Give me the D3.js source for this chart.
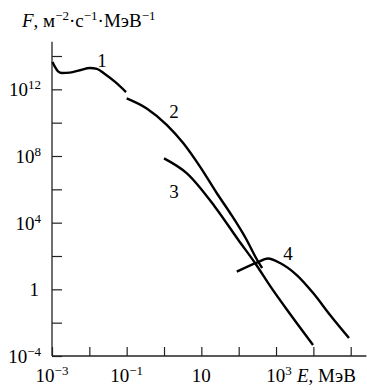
<!DOCTYPE html>
<html><head><meta charset="utf-8">
<script src="https://cdn.jsdelivr.net/npm/d3@7"></script>
<style>body{margin:0;background:#fff}svg{display:block}text{font-family:"Liberation Serif","Times New Roman",serif;fill:#000}</style>
</head><body>
<script>
// Energy E (MeV) and flux F (m^-2 s^-1 MeV^-1)
const curve1 = [[1.03e-3,4.4e13],[1.2e-3,2.2e13],[1.45e-3,1.2e13],[1.85e-3,9.6e12],[3.0e-3,1.0e13],[5.6e-3,1.4e13],[0.0104,1.9e13],[0.016,1.7e13],[0.026,8.3e12],[0.049,2.8e12],[0.096,6.9e11]];
const curve2 = [[0.1,2.9e11],[0.344,7.2e10],[1.2,7.2e9],[3.3,5.8e8],[9.2,2.3e7],[26,5.8e5],[59,3.8e4],[164,912],[292,76],[423,19]];
const curve3 = [[1,7.2e7],[4.1,9.1e6],[23,9.1e4],[98,912],[274,38],[692,1.6],[2380,0.033],[9800,4.6e-4]];
const curve4 = [[89,11.5],[305,40],[611,71],[1280,38],[3590,7.2],[10000,0.58],[28000,0.029],[90000,1.2e-3]];
const curveLabels = ["1","2","3","4"];
const labelAt = [[0.022,2.2e13],[1.85,1.9e10],[1.85,3.2e5],[2100,55]];
const xTicks = [1e-3,1e-2,1e-1,1,10,1e2,1e3,1e4,1e5];
const xLabels = [[1e-3,"10","−3"],[1e-1,"10","−1"],[10,"10",""],[1e3,"10","3"]];
const yTicks = [1e-4,1e-2,1,1e2,1e4,1e6,1e8,1e10,1e12,1e14];
const yLabels = [[1e-4,"10","−4"],[1,"1",""],[1e4,"10","4"],[1e8,"10","8"],[1e12,"10","12"]];

const W = 367, H = 390;
const svg = d3.select("body").append("svg").attr("width", W).attr("height", H);
const x = d3.scaleLog().domain([1e-3, 1e5]).range([52, 350.7]);
const y = d3.scaleLog().domain([1e-4, 1e14]).range([356, 56]);

// axes
const axColor = "#222";
svg.append("line").attr("x1", x(1e-3)).attr("x2", x(10**5.42)).attr("y1", y(1e-4)).attr("y2", y(1e-4))
  .attr("stroke", axColor).attr("stroke-width", 1.3);
svg.append("line").attr("x1", x(1e-3)).attr("x2", x(1e-3)).attr("y1", y(1e-4)).attr("y2", y(10**14.85))
  .attr("stroke", axColor).attr("stroke-width", 1.3);

const gx = svg.append("g").attr("transform", `translate(0,${y(1e-4)})`)
  .call(d3.axisBottom(x).tickValues(xTicks).tickSizeInner(-9).tickSizeOuter(0).tickFormat(""));
const gy = svg.append("g").attr("transform", `translate(${x(1e-3)},0)`)
  .call(d3.axisLeft(y).tickValues(yTicks).tickSizeInner(-10).tickSizeOuter(0).tickFormat(""));
[gx, gy].forEach(g => { g.select(".domain").remove(); g.selectAll(".tick line").attr("stroke", axColor).attr("stroke-width", 1.2); });

const fs = 19, sfs = 13, sup = 7;
function addPow(t, base, exp) {
  t.append("tspan").text(base);
  if (exp) t.append("tspan").attr("dy", -sup).attr("font-size", sfs).text(exp);
}
yLabels.forEach(([v, b, e]) => {
  const t = svg.append("text").attr("x", e ? 41 : 39).attr("y", y(v) + 7)
    .attr("text-anchor", "end").attr("font-size", fs);
  addPow(t, b, e);
});
xLabels.forEach(([v, b, e]) => {
  const t = svg.append("text").attr("x", x(v) + (v === 1e3 ? 3 : 0)).attr("y", 382)
    .attr("text-anchor", "middle").attr("font-size", fs);
  addPow(t, b, e);
});
const xt = svg.append("text").attr("x", 297).attr("y", 382).attr("font-size", fs);
xt.append("tspan").attr("font-style", "italic").text("E");
xt.append("tspan").text(", МэВ");

// title
const tt = svg.append("text").attr("x", 22).attr("y", 27).attr("font-size", fs);
tt.append("tspan").attr("font-style", "italic").text("F");
tt.append("tspan").text(", м");
tt.append("tspan").attr("dy", -sup).attr("font-size", sfs).text("−2");
tt.append("tspan").attr("dy", sup).text("·с");
tt.append("tspan").attr("dy", -sup).attr("font-size", sfs).text("−1");
tt.append("tspan").attr("dy", sup).text("·МэВ");
tt.append("tspan").attr("dy", -sup).attr("font-size", sfs).text("−1");

// curves
const line = d3.line().x(d => x(d[0])).y(d => y(d[1])).curve(d3.curveMonotoneX);
[curve1, curve2, curve3, curve4].forEach(c => {
  svg.append("path").datum(c).attr("d", line).attr("fill", "none")
    .attr("stroke", "#000").attr("stroke-width", 2.4).attr("stroke-linecap", "butt");
});
curveLabels.forEach((s, i) => {
  svg.append("text").attr("x", x(labelAt[i][0])).attr("y", y(labelAt[i][1]))
    .attr("text-anchor", "middle").attr("font-size", fs).text(s);
});
</script>
</body></html>
